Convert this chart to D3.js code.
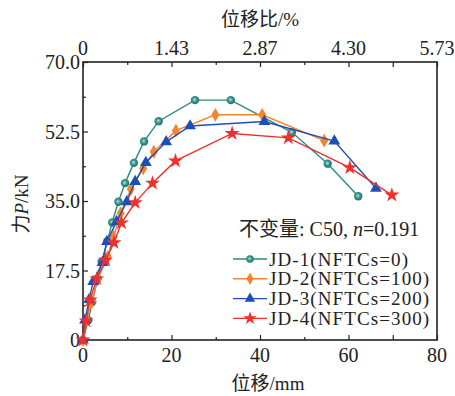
<!DOCTYPE html>
<html>
<head>
<meta charset="utf-8">
<script src="https://cdn.jsdelivr.net/npm/d3@7"></script>
<style>
  body { margin: 0; background: #fff; }
  text { font-family: "Liberation Serif", "Noto Sans CJK SC", serif; fill: #222; }
</style>
</head>
<body>
<svg id="mainsvg" width="455" height="396"></svg>
<script>
// displacement (mm) and force (kN)
const x1 = [0, 1.2, 2.1, 3.3, 4.2, 5.5, 6.6, 8.0, 9.5, 11.5, 13.8, 17.1, 25.3, 33.4, 47.2, 55.3, 62.2]
const y1 = [0, 5.0, 9.6, 15.5, 19.7, 24.9, 29.6, 34.8, 39.5, 44.6, 50.0, 55.1, 60.4, 60.4, 52.3, 44.4, 36.2]
const x2 = [0, 0.8, 2.1, 3.3, 5.6, 6.9, 8.5, 10.8, 13.6, 16.0, 21.0, 29.9, 40.5, 54.5]
const y2 = [0, 5.0, 9.8, 15.3, 21.0, 26.0, 31.9, 38.0, 43.2, 47.4, 52.7, 56.7, 56.7, 50.2]
const x3 = [0, 0.45, 1.4, 2.3, 4.4, 5.4, 7.6, 9.9, 11.8, 14.2, 18.8, 24.2, 41.0, 56.8, 66.2]
const y3 = [0, 5.0, 10.2, 14.7, 19.5, 24.8, 29.8, 34.8, 39.9, 44.7, 49.9, 53.9, 55.0, 50.1, 38.2]
const x4 = [0, 0.7, 1.6, 3.1, 5.1, 7.0, 8.7, 11.8, 15.7, 20.9, 33.7, 46.4, 60.3, 69.8]
const y4 = [0, 4.8, 10.1, 15.4, 20.1, 24.5, 29.5, 34.6, 39.5, 45.1, 52.0, 50.9, 43.4, 36.5]

const seriesNames = ['JD-1(NFTCs=0)', 'JD-2(NFTCs=100)', 'JD-3(NFTCs=200)', 'JD-4(NFTCs=300)']
const xTicks = [0, 20, 40, 60, 80]
const yTicks = [0, 17.5, 35.0, 52.5, 70.0]
const topTickLabels = ['0', '1.43', '2.87', '4.30', '5.73']

const colors = ['#2b8a83', '#f5842c', '#1f4fb4', '#f0302c']
const symbols = [d3.symbolCircle, d3.symbolDiamond, d3.symbolTriangle, d3.symbolStar]
const symSizes = [55, 55, 60, 70]

const svg = d3.select('#mainsvg')
const pLeft = 83, pRight = 437, pTop = 62, pBottom = 340

const x = d3.scaleLinear().domain([0, 80]).range([pLeft, pRight])
const y = d3.scaleLinear().domain([0, 70]).range([pBottom, pTop])

// gradient for the ball markers
const grad = svg.append('defs').append('radialGradient').attr('id', 'ball')
  .attr('cx', '45%').attr('cy', '45%').attr('r', '55%')
grad.append('stop').attr('offset', '0%').attr('stop-color', '#bfe3df')
grad.append('stop').attr('offset', '45%').attr('stop-color', '#3c9c94')
grad.append('stop').attr('offset', '100%').attr('stop-color', '#1e6f69')

// axes, ticks inside
svg.append('g').attr('transform', `translate(0,${pBottom})`)
  .call(d3.axisBottom(x).tickValues(d3.range(0, 81, 10)).tickSizeInner(-5).tickSizeOuter(0).tickFormat(''))
svg.append('g').attr('transform', `translate(0,${pTop})`)
  .call(d3.axisTop(x).tickValues(d3.range(0, 81, 10)).tickSizeInner(-5).tickSizeOuter(0).tickFormat(''))
svg.append('g').attr('transform', `translate(${pLeft},0)`)
  .call(d3.axisLeft(y).tickValues(d3.range(0, 70.1, 8.75)).tickSizeInner(-5).tickSizeOuter(0).tickFormat(''))
svg.selectAll('.tick line').attr('stroke', '#222').attr('stroke-width', 1.2)
// minor ticks shorter
svg.selectAll('.tick').filter(d => Math.abs(d % 20) > 0.01 && Math.abs(d % 17.5) > 0.01)
  .select('line').each(function () {
    const l = d3.select(this)
    if (l.attr('y2') !== null) l.attr('y2', l.attr('y2') * 0.6)
    if (l.attr('x2') !== null) l.attr('x2', l.attr('x2') * 0.6)
  })
svg.selectAll('.domain').remove()

svg.append('rect').attr('x', pLeft).attr('y', pTop).attr('width', pRight - pLeft).attr('height', pBottom - pTop)
  .attr('fill', 'none').attr('stroke', '#222').attr('stroke-width', 1.6)

// tick labels
svg.selectAll('.xl').data(xTicks).join('text')
  .attr('x', d => x(d)).attr('y', pBottom + 22).attr('text-anchor', 'middle')
  .attr('font-size', 20).text(d => d)
svg.selectAll('.tl').data(xTicks).join('text')
  .attr('x', d => x(d)).attr('y', pTop - 7).attr('text-anchor', 'middle')
  .attr('font-size', 20).text((d, i) => topTickLabels[i])
svg.selectAll('.yl').data(yTicks).join('text')
  .attr('x', pLeft - 3).attr('y', d => y(d) + 7).attr('text-anchor', 'end')
  .attr('font-size', 20).text(d => d === 0 ? '0' : d.toFixed(1))

// axis titles
svg.append('text').attr('x', 268).attr('y', 390).attr('text-anchor', 'middle').attr('font-size', 19)
  .text('位移/mm')
svg.append('text').attr('x', 260).attr('y', 26).attr('text-anchor', 'middle').attr('font-size', 19)
  .text('位移比/%')
const yt = svg.append('text').attr('transform', 'translate(28,204) rotate(-90)')
  .attr('text-anchor', 'middle').attr('font-size', 19)
yt.append('tspan').text('力')
yt.append('tspan').attr('font-style', 'italic').text('P')
yt.append('tspan').text('/kN')

// series
const xs = [x1, x2, x3, x4], ys = [y1, y2, y3, y4]
const line = d3.line().x(d => x(d[0])).y(d => y(d[1]))
xs.forEach((xv, i) => {
  const pts = xv.map((v, j) => [v, ys[i][j]])
  svg.append('path').datum(pts).attr('d', line).attr('fill', 'none')
    .attr('stroke', colors[i]).attr('stroke-width', 1.4)
  svg.append('g').selectAll('path').data(pts).join('path')
    .attr('transform', d => `translate(${x(d[0])},${y(d[1])})`)
    .attr('d', d3.symbol(symbols[i], symSizes[i]))
    .attr('fill', i === 0 ? 'url(#ball)' : colors[i])
})

// legend
const lt = svg.append('text').attr('x', 239).attr('y', 236).attr('font-size', 20)
lt.append('tspan').text('不变量: C50, ')
lt.append('tspan').attr('font-style', 'italic').text('n')
lt.append('tspan').text('=0.191')

seriesNames.forEach((name, i) => {
  const cy = 259 + i * 19.8
  const g = svg.append('g')
  g.append('line').attr('x1', 233).attr('x2', 267).attr('y1', cy).attr('y2', cy)
    .attr('stroke', colors[i]).attr('stroke-width', 1.4)
  g.append('path').attr('transform', `translate(250,${cy})`)
    .attr('d', d3.symbol(symbols[i], symSizes[i] * 0.8))
    .attr('fill', i === 0 ? 'url(#ball)' : colors[i])
  g.append('text').attr('x', 269).attr('y', cy + 6.5).attr('font-size', 19)
    .attr('letter-spacing', 1.1).text(name)
})
</script>
</body>
</html>
